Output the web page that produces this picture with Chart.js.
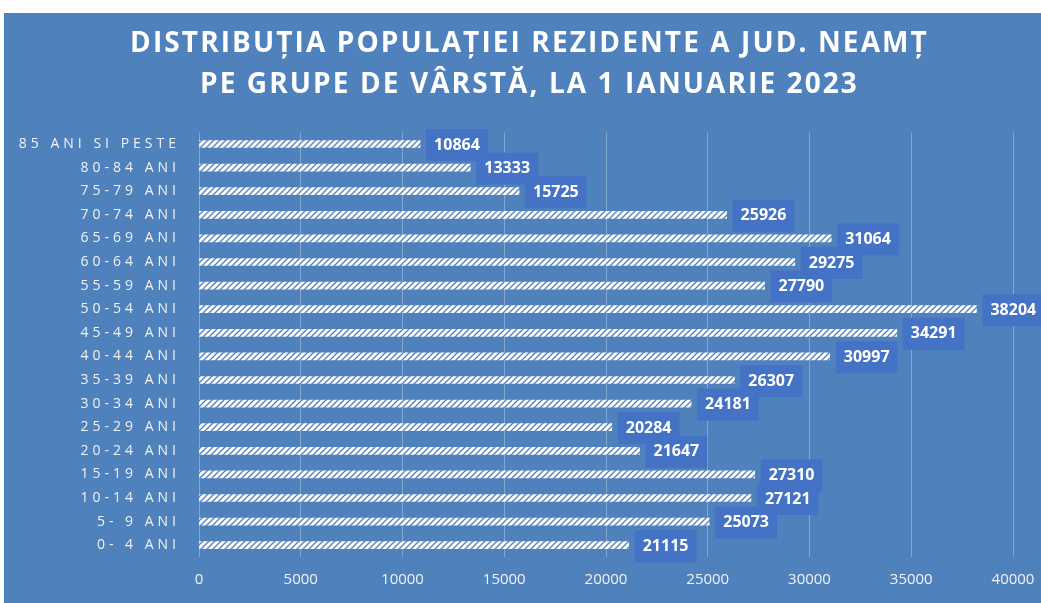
<!DOCTYPE html>
<html>
<head>
<meta charset="utf-8">
<script src="https://cdn.jsdelivr.net/npm/chart.js@4.4.0/dist/chart.umd.min.js"></script>
<style>
  html, body { margin: 0; padding: 0; background: #ffffff; }
  canvas { display: block; }
</style>
</head>
<body>
<canvas id="popChart" width="1041" height="603"></canvas>
<script>
// grupe de varsta, de sus in jos
const grupe = ["85 ANI SI PESTE", "80-84 ANI", "75-79 ANI", "70-74 ANI", "65-69 ANI",
  "60-64 ANI", "55-59 ANI", "50-54 ANI", "45-49 ANI", "40-44 ANI", "35-39 ANI",
  "30-34 ANI", "25-29 ANI", "20-24 ANI", "15-19 ANI", "10-14 ANI", "5- 9 ANI", "0- 4 ANI"];
const populatie = [10864, 13333, 15725, 25926, 31064, 29275, 27790, 38204, 34291,
  30997, 26307, 24181, 20284, 21647, 27310, 27121, 25073, 21115];
const xTicks = [0, 5000, 10000, 15000, 20000, 25000, 30000, 35000, 40000];
const titlu = ["DISTRIBUȚIA POPULAȚIEI REZIDENTE A JUD. NEAMȚ",
  "PE GRUPE DE VÂRSTĂ, LA 1 IANUARIE 2023"];

const PANEL = "#4f81bd";
const BOX = "#4472c4";

function hatch() {
  const c = document.createElement("canvas");
  c.width = 6; c.height = 6;
  const g = c.getContext("2d");
  g.fillStyle = "#ffffff";
  g.fillRect(0, 0, 6, 6);
  g.strokeStyle = PANEL;
  g.lineWidth = 1.3;
  g.beginPath();
  g.moveTo(0, 6); g.lineTo(6, 0);
  g.moveTo(-3, 3); g.lineTo(3, -3);
  g.moveTo(3, 9); g.lineTo(9, 3);
  g.stroke();
  return g.createPattern(c, "repeat");
}

const fundal = {
  id: "fundal",
  beforeDraw(chart) {
    const ctx = chart.ctx;
    ctx.save();
    ctx.fillStyle = "#ffffff";
    ctx.fillRect(0, 0, chart.width, chart.height);
    ctx.fillStyle = PANEL;
    ctx.fillRect(4, 13, chart.width - 4, chart.height - 13);
    ctx.restore();
  }
};

// spatiere intre litere pentru etichetele Y si titlu
const spatiere = {
  id: "spatiere",
  afterLayout(chart) {
    const y = chart.scales.y;
    if (y && !y._spatiat) {
      const orig = y.drawLabels.bind(y);
      y.drawLabels = function (area) {
        chart.ctx.save();
        chart.ctx.letterSpacing = "4px";
        orig(area);
        chart.ctx.restore();
      };
      y._spatiat = true;
    }
    const t = chart.titleBlock;
    if (t && !t._spatiat) {
      const origT = t.draw.bind(t);
      t.draw = function () {
        chart.ctx.save();
        chart.ctx.letterSpacing = "2.1px";
        chart.ctx.translate(23, 0);
        origT();
        chart.ctx.restore();
      };
      t._spatiat = true;
    }
  }
};

const etichete = {
  id: "etichete",
  afterDatasetsDraw(chart) {
    const ctx = chart.ctx;
    const meta = chart.getDatasetMeta(0);
    ctx.save();
    ctx.font = "bold 16px 'Open Sans'";
    ctx.textBaseline = "middle";
    meta.data.forEach((bar, i) => {
      const txt = String(populatie[i]);
      const w = ctx.measureText(txt).width;
      const x = bar.x + 6;
      ctx.fillStyle = BOX;
      ctx.fillRect(x, bar.y - 15, w + 16, 32);
      ctx.fillStyle = "#ffffff";
      ctx.fillText(txt, x + 8, bar.y + 1);
    });
    ctx.restore();
  }
};

new Chart(document.getElementById("popChart"), {
  type: "bar",
  data: {
    labels: grupe,
    datasets: [{
      data: populatie,
      backgroundColor: hatch(),
      borderWidth: 0,
      barThickness: 7
    }]
  },
  options: {
    indexAxis: "y",
    responsive: false,
    animation: false,
    layout: { padding: { top: 13, left: 0, right: 28, bottom: 0 } },
    plugins: {
      legend: { display: false },
      tooltip: { enabled: false },
      title: {
        display: true,
        text: titlu,
        color: "#ffffff",
        font: { family: "'Open Sans'", size: 28, weight: "bold", lineHeight: 1.45 },
        padding: { top: 11, bottom: 27 }
      }
    },
    scales: {
      x: {
        min: 0,
        max: 40000,
        afterBuildTicks(s) { s.ticks = xTicks.map(v => ({ value: v })); },
        afterFit(s) { s.height = 46; s.paddingLeft = 0; s.paddingRight = 0; },
        ticks: {
          color: "#f2f2f2",
          font: { family: "'Open Sans'", size: 15 },
          padding: 14,
          callback: v => String(v)
        },
        grid: { color: "rgba(255,255,255,0.3)", drawTicks: false },
        border: { display: false }
      },
      y: {
        afterFit(s) { s.width = 199; },
        ticks: {
          color: "#f2f2f2",
          font: { family: "'Open Sans'", size: 14 },
          padding: 11,
          autoSkip: false
        },
        grid: { display: false },
        border: { display: false }
      }
    }
  },
  plugins: [fundal, spatiere, etichete]
});
</script>
</body>
</html>
